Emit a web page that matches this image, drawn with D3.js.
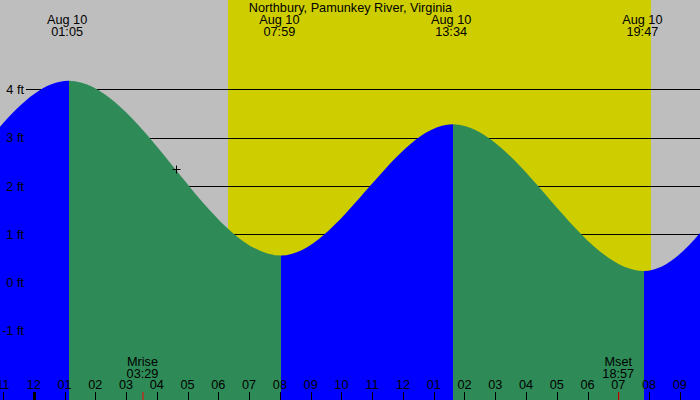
<!DOCTYPE html>
<html>
<head>
<meta charset="utf-8">
<script src="https://cdn.jsdelivr.net/npm/d3@7"></script>
<style>
  body { margin: 0; background: #bebebe; }
  svg { display: block; }
  text { font-family: "Liberation Sans", Arial, sans-serif; font-size: 12.7px; fill: #000; }
</style>
</head>
<body>
<svg id="chart" width="700" height="400"></svg>
<script>
// tide extremes (the first and last ones sit outside the visible window)
const tideDays  = ["Aug 9", "Aug 9", "Aug 10", "Aug 10", "Aug 10", "Aug 10", "Aug 11", "Aug 11"];
const tideTimes = ["12:08", "18:17", "01:05", "07:59", "13:34", "19:47", "01:59", "08:30"];
const tideFeet  = [3.9, 0.40, 4.18, 0.56, 3.28, 0.24, 4.01, 0.5];

const sunTimes  = ["06:15", "20:01"];          // sunrise, sunset
const moonNames = ["Mrise", "Mset"];
const moonTimes = ["03:29", "18:57"];
const nowMark   = { time: "04:34", feet: 2.35 };

const hourTicks = d3.range(-1, 22);           // hours after midnight Aug 10
const feetTicks = [4, 3, 2, 1, 0, -1];
const title = "Northbury, Pamunkey River, Virginia";

const W = 700, H = 400;
const svg = d3.select("#chart");

function toHours(t, day) {
    const [hh, mm] = t.split(":").map(Number);
    const off = day === "Aug 9" ? -24 : day === "Aug 11" ? 24 : 0;
    return off + hh + mm / 60;
}

const x = d3.scaleLinear().domain([0, 21]).range([35.3, 681.3]);
const y = d3.scaleLinear().domain([-1, 4]).range([330.9, 89.4]);

const tides = tideTimes.map((t, i) => ({
    day: tideDays[i], time: t, h: toHours(t, tideDays[i]), ft: tideFeet[i]
}));

// background: night grey, daylight yellow
svg.append("rect").attr("width", W).attr("height", H).attr("fill", "#bebebe");
svg.append("rect")
    .attr("x", x(toHours(sunTimes[0])))
    .attr("width", x(toHours(sunTimes[1])) - x(toHours(sunTimes[0])))
    .attr("y", 0).attr("height", H)
    .attr("fill", "#cdcd00")
    .attr("shape-rendering", "crispEdges");

// grid lines sit under the water
svg.append("g").selectAll("line")
    .data(feetTicks)
    .join("line")
    .attr("x1", 26).attr("x2", W)
    .attr("y1", d => Math.round(y(d)) + 0.5).attr("y2", d => Math.round(y(d)) + 0.5)
    .attr("stroke", "#000").attr("stroke-width", 1);

// water: blue while rising, green while falling
const area = d3.area()
    .x(d => x(d.h))
    .y0(H)
    .y1(d => y(d.ft))
    .curve(d3.curveMonotoneX);

const defs = svg.append("defs");
const water = svg.append("g");
for (let i = 0; i < tides.length - 1; i++) {
    const a = tides[i], b = tides[i + 1];
    const x0 = x(a.h), x1 = x(b.h);
    if (x1 < 0 || x0 > W) continue;
    defs.append("clipPath").attr("id", "seg" + i)
        .append("rect")
        .attr("x", Math.round(x0)).attr("y", 0)
        .attr("width", Math.round(x1) - Math.round(x0)).attr("height", H);
    water.append("path")
        .datum(tides)
        .attr("d", area)
        .attr("clip-path", `url(#seg${i})`)
        .attr("fill", b.ft > a.ft ? "#0000ff" : "#2e8b57");
}

// y labels
svg.append("g").selectAll("text")
    .data(feetTicks)
    .join("text")
    .attr("x", 24).attr("y", d => y(d))
    .attr("dy", "0.36em")
    .attr("text-anchor", "end")
    .text(d => d + " ft");

// title and extreme labels
svg.append("text")
    .attr("x", 350.5).attr("y", 12)
    .attr("text-anchor", "middle")
    .text(title);

const shown = tides.filter(d => x(d.h) >= 0 && x(d.h) <= W);
const peakLabels = svg.append("g").selectAll("g")
    .data(shown)
    .join("g")
    .attr("transform", d => `translate(${x(d.h) - 1.5},0)`);
peakLabels.append("text").attr("y", 24).attr("text-anchor", "middle").text(d => d.day);
peakLabels.append("text").attr("y", 36).attr("text-anchor", "middle").text(d => d.time);

// current time marker
const mx = Math.round(x(toHours(nowMark.time))) + 0.5;
const my = Math.round(y(nowMark.feet)) + 0.5;
svg.append("path")
    .attr("d", `M${mx - 4},${my}H${mx + 4}M${mx},${my - 4}V${my + 4}`)
    .attr("stroke", "#000").attr("stroke-width", 1).attr("fill", "none");

// hour axis at the bottom
const fmtHour = h => {
    const v = ((h % 12) + 12) % 12;
    return d3.format("02d")(v === 0 ? 12 : v);
};
const hours = svg.append("g");
hours.selectAll("text")
    .data(hourTicks)
    .join("text")
    .attr("x", d => x(d) - 1.5).attr("y", 389)
    .attr("text-anchor", "middle")
    .text(fmtHour);
hours.selectAll("line")
    .data(hourTicks)
    .join("line")
    .attr("x1", d => Math.round(x(d) - 1.5) + 0.5).attr("x2", d => Math.round(x(d) - 1.5) + 0.5)
    .attr("y1", 392).attr("y2", H)
    .attr("stroke", "#000")
    .attr("stroke-width", d => d === 0 ? 3 : 1);

// moon rise / set
const moon = svg.append("g").selectAll("g")
    .data(moonTimes.map((t, i) => ({ name: moonNames[i], time: t, h: toHours(t) })))
    .join("g")
    .attr("transform", d => `translate(${x(d.h)},0)`);
moon.append("text").attr("y", 366).attr("text-anchor", "middle").text(d => d.name);
moon.append("text").attr("y", 377.7).attr("text-anchor", "middle").text(d => d.time);
moon.append("line")
    .attr("x1", 0.5).attr("x2", 0.5)
    .attr("y1", 392).attr("y2", H)
    .attr("stroke", "#ff0000").attr("stroke-width", 1);
</script>
</body>
</html>
